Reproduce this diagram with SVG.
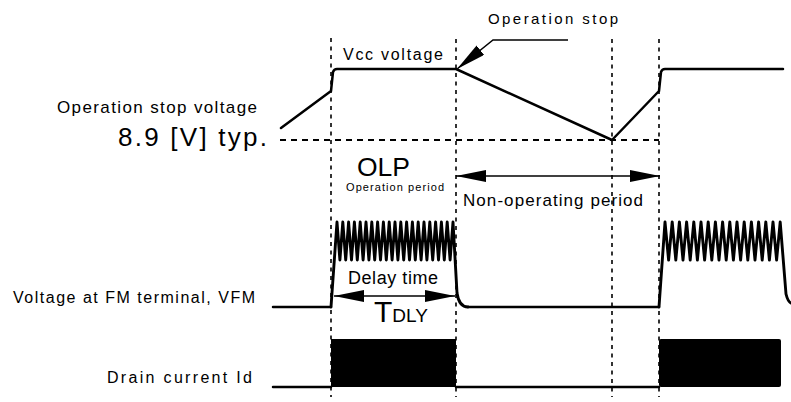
<svg xmlns="http://www.w3.org/2000/svg" width="791" height="402" viewBox="0 0 791 402">
<style>
text{font-family:"Liberation Sans",Arial,sans-serif;fill:#000}
.w{fill:none;stroke:#000;stroke-width:2.5;stroke-linejoin:round;stroke-linecap:round}
.z{stroke-width:2.9}
.vd{fill:none;stroke:#000;stroke-width:1.6;stroke-dasharray:4 4.5}
.hd{fill:none;stroke:#000;stroke-width:2;stroke-dasharray:6 5}
.ar{fill:none;stroke:#000;stroke-width:1.5}
</style>
<defs>
<marker id="ah" markerUnits="userSpaceOnUse" markerWidth="32" markerHeight="14" refX="30" refY="6" orient="auto-start-reverse">
<path d="M0,0 L30,6 L0,12 z" fill="#000"/>
</marker>
</defs>
<rect width="791" height="402" fill="#fff"/>
<g id="guides">
<path class="vd" d="M331,38 V397 M456,39 V397 M612,39 V397 M659,39 V397"/>
<path class="hd" d="M280,140 H659"/>
</g>
<g id="vcc">
<path class="w" d="M281,128 L331,91 L333,72 Q334,69 337,69 L456,69 L612,140 L659,91 L661,72 Q662,69 665,69 L783,69"/>
</g>
<g id="vfm">
<path class="w" d="M273,307 L331,307"/>
<path class="w z" d="M331,307 L337,222 l2.9,38 2.9,-38 2.9,38 2.9,-38 2.9,38 2.9,-38 2.9,38 2.9,-38 2.9,38 2.9,-38 2.9,38 2.9,-38 2.9,38 2.9,-38 2.9,38 2.9,-38 2.9,38 2.9,-38 2.9,38 2.9,-38 2.9,38 2.9,-38 2.9,38 2.9,-38 2.9,38 2.9,-38 2.9,38 2.9,-38 2.9,38 2.9,-38 2.9,38 2.9,-38 2.9,38 2.9,-38 2.9,38 2.9,-38 2.9,38 2.9,-38 2.9,38 2.9,-38 L457,293 Q459,307 468,307"/>
<path class="w" d="M468,307 L659,307"/>
<path class="w z" d="M659,307 L665,222 l3.6,38 3.6,-38 3.6,38 3.6,-38 3.6,38 3.6,-38 3.6,38 3.6,-38 3.6,38 3.6,-38 3.6,38 3.6,-38 3.6,38 3.6,-38 3.6,38 3.6,-38 3.6,38 3.6,-38 3.6,38 3.6,-38 3.6,38 3.6,-38 3.6,38 3.6,-38 3.6,38 3.6,-38 3.6,38 3.6,-38 3.6,38 3.6,-38 3.6,38 3.6,-38 L786,294 Q788,302 791,303"/>
</g>
<g id="id">
<path class="w" d="M273,387 H331 M456,387 H659"/>
<rect x="331" y="339" width="125" height="48" fill="#000"/>
<rect x="659" y="339" width="122" height="48" rx="2" fill="#000"/>
</g>
<g id="connectors">
<polyline class="ar" points="568,40 493,40 457,69" marker-end="url(#ah)"/>
<line class="ar" x1="456" y1="176" x2="660" y2="176" marker-start="url(#ah)" marker-end="url(#ah)"/>
<line class="ar" x1="334" y1="296" x2="455" y2="296" marker-start="url(#ah)" marker-end="url(#ah)"/>
</g>
<g id="labels">
<text x="488" y="24" font-size="15" textLength="130" lengthAdjust="spacing">Operation stop</text>
<text x="343" y="60" font-size="16" textLength="100" lengthAdjust="spacing">Vcc voltage</text>
<text x="57" y="113" font-size="17" textLength="200" lengthAdjust="spacing">Operation stop voltage</text>
<text x="118" y="146" font-size="26" textLength="149" lengthAdjust="spacing">8.9 [V] typ.</text>
<text x="357" y="176" font-size="26" textLength="53" lengthAdjust="spacingAndGlyphs">OLP</text>
<text x="346" y="191" font-size="11" textLength="98" lengthAdjust="spacing">Operation period</text>
<text x="463" y="206" font-size="17" textLength="180" lengthAdjust="spacing">Non-operating period</text>
<text x="348" y="284" font-size="18" textLength="90" lengthAdjust="spacing">Delay time</text>
<text x="374" y="322" font-size="30">T<tspan font-size="19">DLY</tspan></text>
<text x="13" y="303" font-size="16" textLength="242" lengthAdjust="spacing">Voltage at FM terminal, VFM</text>
<text x="107" y="383" font-size="16" textLength="145" lengthAdjust="spacing">Drain current Id</text>
</g>
</svg>
